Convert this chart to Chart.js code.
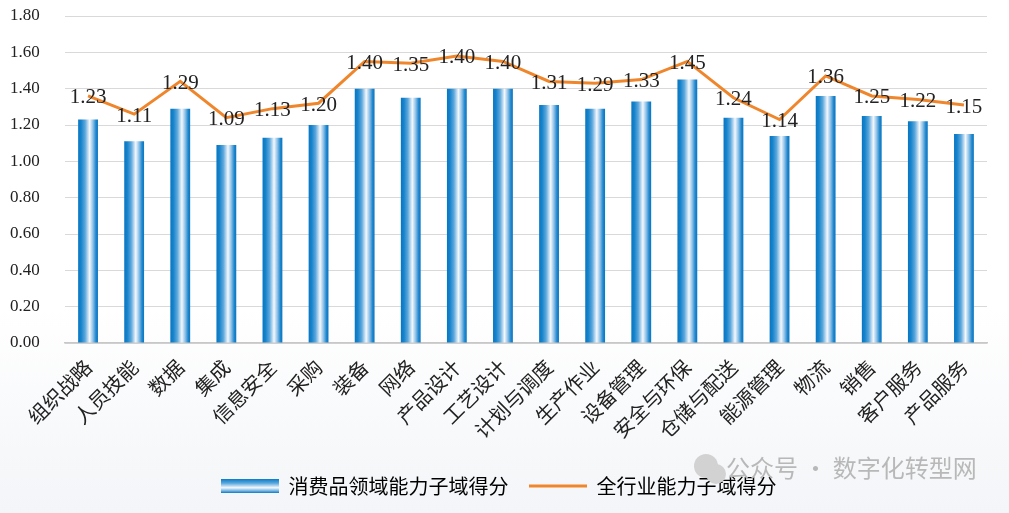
<!DOCTYPE html>
<html>
<head>
<meta charset="utf-8">
<script src="https://cdn.jsdelivr.net/npm/chart.js@4"></script>
<style>
  html, body { margin: 0; padding: 0; }
  body { width: 1009px; height: 513px; background: linear-gradient(to bottom, #ffffff 0%, #ffffff 60%, #f3f5f8 100%); }
  #wrap { width: 1009px; height: 513px; position: relative; }
</style>
</head>
<body>
<div id="wrap"><canvas id="c"></canvas></div>
<script>
const categories = ['组织战略','人员技能','数据','集成','信息安全','采购','装备','网络','产品设计','工艺设计','计划与调度','生产作业','设备管理','安全与环保','仓储与配送','能源管理','物流','销售','客户服务','产品服务'];
const barValues = [1.23,1.11,1.29,1.09,1.13,1.20,1.40,1.35,1.40,1.40,1.31,1.29,1.33,1.45,1.24,1.14,1.36,1.25,1.22,1.15];
const lineValues = [1.36,1.26,1.44,1.24,1.29,1.32,1.55,1.54,1.58,1.55,1.44,1.43,1.45,1.55,1.35,1.23,1.47,1.36,1.34,1.31];
const seriesNames = ['消费品领域能力子域得分','全行业能力子域得分'];
const yTicks = { min: 0, max: 1.8, step: 0.2 };
const watermark = '公众号 · 数字化转型网';

const BAR_PCT = 0.43;
const LINE_COLOR = '#f0862c';

function barGradient(ctx) {
  const chart = ctx.chart;
  const xs = chart.scales.x;
  if (!xs || !chart.chartArea) return '#1f86cc';
  const cx = xs.getPixelForValue(ctx.dataIndex);
  const w = xs.width / categories.length * BAR_PCT / 2;
  const g = chart.ctx.createLinearGradient(cx - w, 0, cx + w, 0);
  g.addColorStop(0, '#0776c3');
  g.addColorStop(0.15, '#1683cb');
  g.addColorStop(0.35, '#5ca7dc');
  g.addColorStop(0.58, '#f4f8fc');
  g.addColorStop(0.75, '#8cc0e8');
  g.addColorStop(0.9, '#1f86cc');
  g.addColorStop(1, '#0776c3');
  return g;
}

function legendBarImg() {
  const c = document.createElement('canvas');
  c.width = 58; c.height = 14;
  const x = c.getContext('2d');
  const g = x.createLinearGradient(0, 0, 0, 14);
  g.addColorStop(0, '#0a7bc6');
  g.addColorStop(0.3, '#5aa8dd');
  g.addColorStop(0.62, '#f4f8fc');
  g.addColorStop(0.85, '#6fb2e2');
  g.addColorStop(1, '#0a7bc6');
  x.fillStyle = g; x.fillRect(0, 0, 58, 14);
  return c;
}
function legendLineImg() {
  const c = document.createElement('canvas');
  c.width = 58; c.height = 14;
  const x = c.getContext('2d');
  x.fillStyle = LINE_COLOR; x.fillRect(0, 5.5, 58, 3);
  return c;
}
const imgs = [legendBarImg(), legendLineImg()];

const labelPlugin = {
  id: 'valueLabels',
  afterDatasetsDraw(chart) {
    const meta = chart.getDatasetMeta(1);
    const ctx = chart.ctx;
    ctx.save();
    ctx.font = '21px "Liberation Serif"';
    ctx.fillStyle = '#222';
    ctx.textAlign = 'center';
    ctx.textBaseline = 'middle';
    meta.data.forEach((pt, i) => {
      ctx.fillText(barValues[i].toFixed(2), pt.x, pt.y + 2);
    });
    ctx.restore();
  }
};

const watermarkPlugin = {
  id: 'watermark',
  afterDraw(chart) {
    const ctx = chart.ctx;
    ctx.save();
    ctx.fillStyle = '#d2d2d2';
    ctx.beginPath(); ctx.arc(706, 466, 12, 0, Math.PI * 2); ctx.fill();
    ctx.beginPath(); ctx.arc(716, 474, 10, 0, Math.PI * 2); ctx.fill();
    ctx.font = '24px "Noto Sans CJK SC"';
    ctx.fillStyle = '#b8b8b8';
    ctx.textAlign = 'left';
    ctx.textBaseline = 'middle';
    ctx.fillText(watermark, 726, 468);
    ctx.restore();
  }
};

new Chart(document.getElementById('c'), {
  data: {
    labels: categories,
    datasets: [
      { type: 'bar', label: seriesNames[0], data: barValues, backgroundColor: barGradient,
        barPercentage: BAR_PCT, categoryPercentage: 1, order: 1 },
      { type: 'line', label: seriesNames[1], data: lineValues, borderColor: LINE_COLOR, borderWidth: 3,
        pointRadius: 0, tension: 0, fill: false, order: 0 }
    ]
  },
  options: {
    responsive: true,
    maintainAspectRatio: false,
    animation: false,
    layout: { padding: { top: 16, right: 22, left: 10, bottom: 7 } },
    plugins: {
      tooltip: { enabled: false },
      legend: {
        position: 'bottom',
        labels: {
          font: { size: 20, family: '"Noto Sans CJK SC"' },
          color: '#222',
          usePointStyle: true,
          pointStyleWidth: 58,
          boxHeight: 14,
          padding: 20,
          generateLabels: () => seriesNames.map((n, i) => ({
            text: n, pointStyle: imgs[i], fillStyle: 'transparent', strokeStyle: 'transparent',
            lineWidth: 0, datasetIndex: i, hidden: false
          }))
        }
      }
    },
    scales: {
      x: {
        grid: { display: false },
        border: { display: true, color: '#c8c8c8', width: 1.5 },
        ticks: {
          autoSkip: false, maxRotation: 45, minRotation: 45, padding: 4,
          font: { size: 20, family: '"Noto Sans CJK SC"' }, color: '#222'
        },
        afterFit(s) { s.height = 113; }
      },
      y: {
        min: yTicks.min, max: yTicks.max,
        grid: { color: '#d9d9d9', lineWidth: 1, drawTicks: false },
        border: { display: false },
        ticks: {
          stepSize: yTicks.step, padding: 0, crossAlign: 'far',
          font: { size: 17, family: '"Liberation Serif"' }, color: '#222',
          callback: v => Number(v).toFixed(2)
        },
        afterFit(s) { s.width = 55; }
      }
    }
  },
  plugins: [labelPlugin, watermarkPlugin]
});
</script>
</body>
</html>
